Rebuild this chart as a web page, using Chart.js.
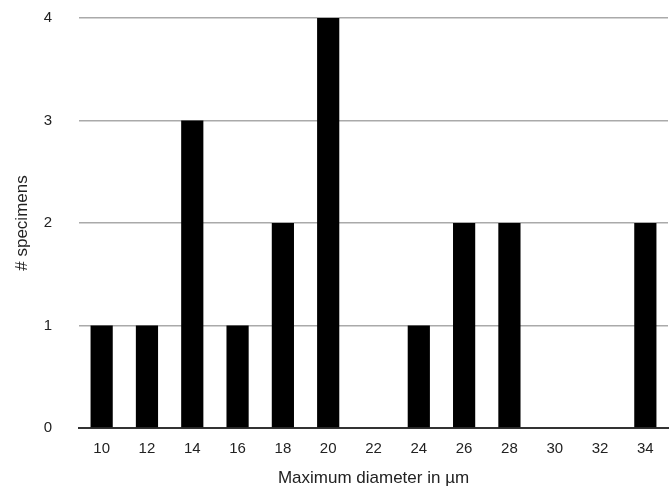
<!DOCTYPE html>
<html>
<head>
<meta charset="utf-8">
<script src="https://cdn.jsdelivr.net/npm/chart.js@4"></script>
<style>
  html, body { margin: 0; padding: 0; background: #fff; overflow: hidden; }
  #wrap { width: 671px; height: 489px; }
</style>
</head>
<body>
<div id="wrap"><canvas id="histChart" width="671" height="489"></canvas></div>
<script>
// Histogram of specimen diameters
const diameters = ['10', '12', '14', '16', '18', '20', '22', '24', '26', '28', '30', '32', '34'];
const specimenCounts = [1, 1, 3, 1, 2, 4, 0, 1, 2, 2, 0, 0, 2];
const yTicks = [0, 1, 2, 3, 4];

const fontFamily = 'Helvetica, "Liberation Sans", Arial, sans-serif';

new Chart(document.getElementById('histChart'), {
  type: 'bar',
  data: {
    labels: diameters,
    datasets: [{
      label: '# specimens',
      data: specimenCounts,
      backgroundColor: '#000',
      borderWidth: 0,
      barPercentage: 0.49,
      categoryPercentage: 1
    }]
  },
  options: {
    responsive: false,
    animation: false,
    layout: { padding: { top: 18, right: 3, left: 0, bottom: 0 } },
    plugins: {
      legend: { display: false },
      tooltip: { enabled: false }
    },
    scales: {
      x: {
        afterFit: (axis) => {
          axis.height = 61;
          axis.paddingLeft = 0;
          axis.paddingRight = 0;
        },
        grid: { display: false },
        border: { display: true, color: '#333', width: 2 },
        ticks: {
          color: '#222',
          font: { family: fontFamily, size: 15 },
          padding: 4,
          maxRotation: 0
        },
        title: {
          display: true,
          text: 'Maximum diameter in µm',
          color: '#222',
          font: { family: fontFamily, size: 17 },
          padding: { top: 4, bottom: 0 }
        }
      },
      y: {
        min: 0,
        max: 4,
        afterBuildTicks: (axis) => { axis.ticks = yTicks.map(v => ({ value: v })); },
        afterFit: (axis) => {
          axis.width = 79;
          axis.paddingTop = 0;
          axis.paddingBottom = 0;
        },
        grid: { color: '#aaa', lineWidth: 1.5, drawTicks: false },
        border: { display: false },
        ticks: {
          color: '#222',
          font: { family: fontFamily, size: 15 },
          padding: 27
        },
        title: {
          display: true,
          text: '# specimens',
          color: '#222',
          font: { family: fontFamily, size: 17 },
          padding: { top: 12, bottom: 0 }
        }
      }
    }
  }
});
</script>
</body>
</html>
